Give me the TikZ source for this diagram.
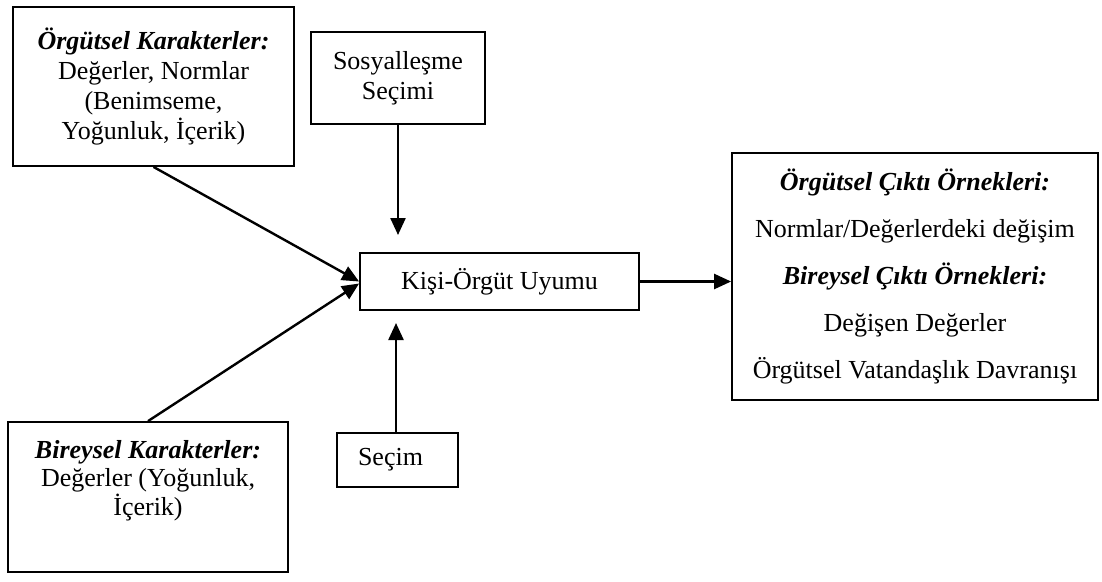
\documentclass[tikz,border=0pt]{standalone}
\usepackage{fontspec}
\setmainfont{Liberation Serif}
\usetikzlibrary{arrows.meta,calc}
\begin{document}
\begin{tikzpicture}[x=1pt,y=-1pt,
  box/.style={draw,line width=1.8pt,inner sep=0pt,align=center,font=\fontsize{26}{30}\selectfont},
  arr/.style={line width=2.4pt,-{Triangle[length=17pt,width=15pt]}},
  con/.style={line width=2.4pt}]
\useasboundingbox (0,0) rectangle (1102,581);
\node[box,minimum width=281pt,minimum height=159pt] (org) at (153.5,86.5)
  {\textbf{\textit{Örgütsel Karakterler:}}\\Değerler, Normlar\\(Benimseme,\\Yoğunluk, İçerik)};
\node[box,minimum width=174pt,minimum height=92pt] (sos) at (398,78)
  {Sosyalleşme\\Seçimi};
\node[box,minimum width=279pt,minimum height=57pt] (kou) at (499.5,281.5)
  {Kişi-Örgüt Uyumu};
\node[box,minimum width=366pt,minimum height=247pt,font=\fontsize{26}{47}\selectfont] (out) at (915,276.5)
  {\textbf{\textit{Örgütsel Çıktı Örnekleri:}}\\Normlar/Değerlerdeki değişim\\\textbf{\textit{Bireysel Çıktı Örnekleri:}}\\Değişen Değerler\\Örgütsel Vatandaşlık Davranışı};
\node[box,minimum width=280pt,minimum height=150pt,font=\fontsize{26}{28.5}\selectfont] (bir) at (148,497)
  {\textbf{\textit{Bireysel Karakterler:}}\\Değerler (Yoğunluk,\\İçerik)\\[10pt]~};
\node[box,minimum width=121pt,minimum height=54pt] (sec) at (397.5,460)
  {Seçim\hspace*{14pt}};
\coordinate (t1) at (398,235);
\coordinate (t2) at (396,323);
\draw[arr] (org.south) -- (kou.west);
\draw[arr] (bir.north) -- ($(kou.west)+(0,2)$);
\draw[arr] (sos.south) -- (t1);
\draw[arr] (sec.north -| t2) -- (t2);
\draw[arr] (kou.east) -- (kou.east -| out.west);
\end{tikzpicture}
\end{document}
